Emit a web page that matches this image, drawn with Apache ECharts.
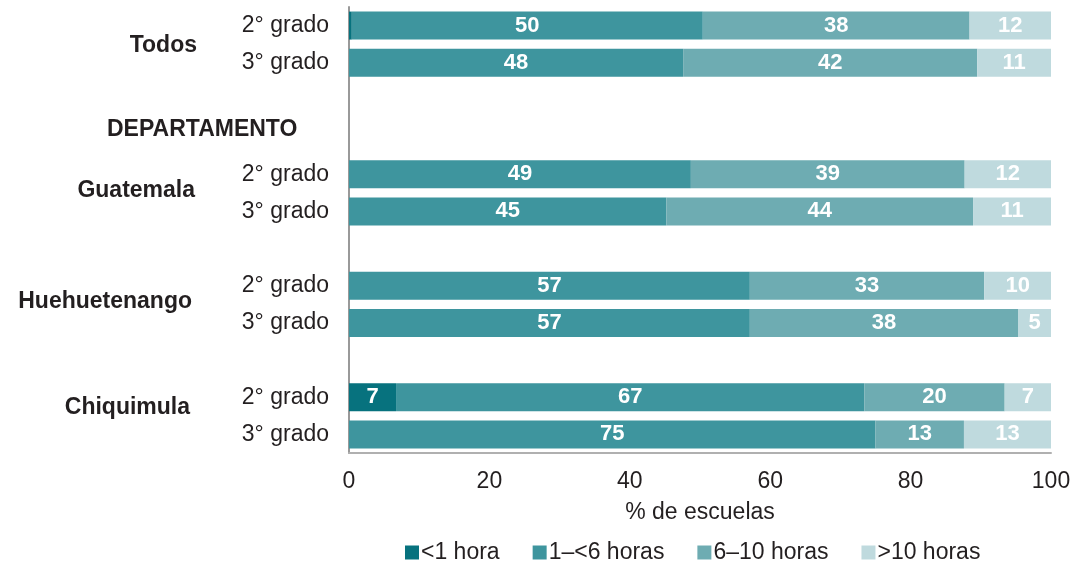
<!DOCTYPE html>
<html>
<head>
<meta charset="utf-8">
<script src="https://cdn.jsdelivr.net/npm/echarts@6/dist/echarts.min.js"></script>
<style>
  html, body { margin: 0; padding: 0; background: #fff; }
  #chart { width: 1075px; height: 567px; }
</style>
</head>
<body>
<div id="chart"></div>
<script>
// rows top to bottom; spacer rows have no bars
const categories = ['T2', 'T3', 'sp1', 'sp2', 'G2', 'G3', 'sp3', 'H2', 'H3', 'sp4', 'C2', 'C3']
const rowLabels = ['2° grado', '3° grado', '', '', '2° grado', '3° grado', '', '2° grado', '3° grado', '', '2° grado', '3° grado']
const groupNames = ['Todos', 'DEPARTAMENTO', 'Guatemala', 'Huehuetenango', 'Chiquimula']

const menos1 = [0.4, 0, null, null, 0, 0, null, 0, 0, null, 6.7, 0]
const de1a6 = [50, 47.6, null, null, 48.7, 45.2, null, 57.1, 57.1, null, 66.7, 75]
const de6a10 = [38, 41.9, null, null, 39.0, 43.7, null, 33.4, 38.2, null, 20.0, 12.6]
const mas10 = [11.6, 10.5, null, null, 12.3, 11.1, null, 9.5, 4.7, null, 6.6, 12.5]

const seriesNames = ['<1 hora', '1–<6 horas', '6–10 horas', '>10 horas']
const colors = ['#07727e', '#3e959e', '#6eacb2', '#bfdade']

const font = "'Liberation Sans', Arial, sans-serif"
const textColor = '#231f20'
const fs = 23

const myChart = echarts.init(document.getElementById('chart'))

function makeSeries (name, data, color) {
  return {
    name: name,
    type: 'bar',
    stack: 'total',
    barWidth: 28,
    data: data,
    itemStyle: { color: color },
    label: {
      show: true,
      position: 'inside',
      color: '#fff',
      fontFamily: font,
      fontWeight: 'bold',
      fontSize: 22,
      formatter: function (p) {
        if (p.value == null || p.value < 3) return ''
        return Math.round(p.value)
      }
    }
  }
}

function groupText (name, x, y, alignRight) {
  return {
    type: 'text',
    x: x,
    y: y,
    style: {
      text: name,
      font: 'bold ' + fs + 'px ' + font,
      fill: textColor,
      align: alignRight ? 'right' : 'left',
      verticalAlign: 'middle'
    }
  }
}

myChart.setOption({
  animation: false,
  textStyle: { fontFamily: font },
  grid: {
    left: 349,
    right: 24,
    top: 7,
    height: 446
  },
  legend: {
    top: 536,
    left: 400,
    itemWidth: 14,
    itemHeight: 14,
    itemGap: 33,
    icon: 'rect',
    textStyle: { fontSize: fs, color: textColor, fontFamily: font, padding: [0, 0, 0, -3] },
    data: seriesNames
  },
  xAxis: {
    type: 'value',
    min: 0,
    max: 100,
    interval: 20,
    name: '% de escuelas',
    nameLocation: 'middle',
    nameGap: 48,
    nameTextStyle: { fontSize: fs, color: textColor, fontFamily: font },
    axisLine: { show: true, lineStyle: { color: '#b0b0b0', width: 2 } },
    axisTick: { show: false },
    splitLine: { show: false },
    axisLabel: { fontSize: fs, color: textColor, margin: 17, fontFamily: font }
  },
  yAxis: {
    type: 'category',
    inverse: true,
    data: categories,
    axisLine: { show: true, lineStyle: { color: '#999', width: 2 } },
    axisTick: { show: false },
    axisLabel: {
      fontSize: fs,
      color: textColor,
      margin: 20,
      fontFamily: font,
      formatter: function (v, i) { return rowLabels[i] }
    }
  },
  graphic: [
    groupText(groupNames[0], 197, 46, true),
    groupText(groupNames[1], 107, 130, false),
    groupText(groupNames[2], 195, 191, true),
    groupText(groupNames[3], 192, 302, true),
    groupText(groupNames[4], 190, 408, true)
  ],
  series: [
    makeSeries(seriesNames[0], menos1, colors[0]),
    makeSeries(seriesNames[1], de1a6, colors[1]),
    makeSeries(seriesNames[2], de6a10, colors[2]),
    makeSeries(seriesNames[3], mas10, colors[3])
  ]
})
</script>
</body>
</html>
